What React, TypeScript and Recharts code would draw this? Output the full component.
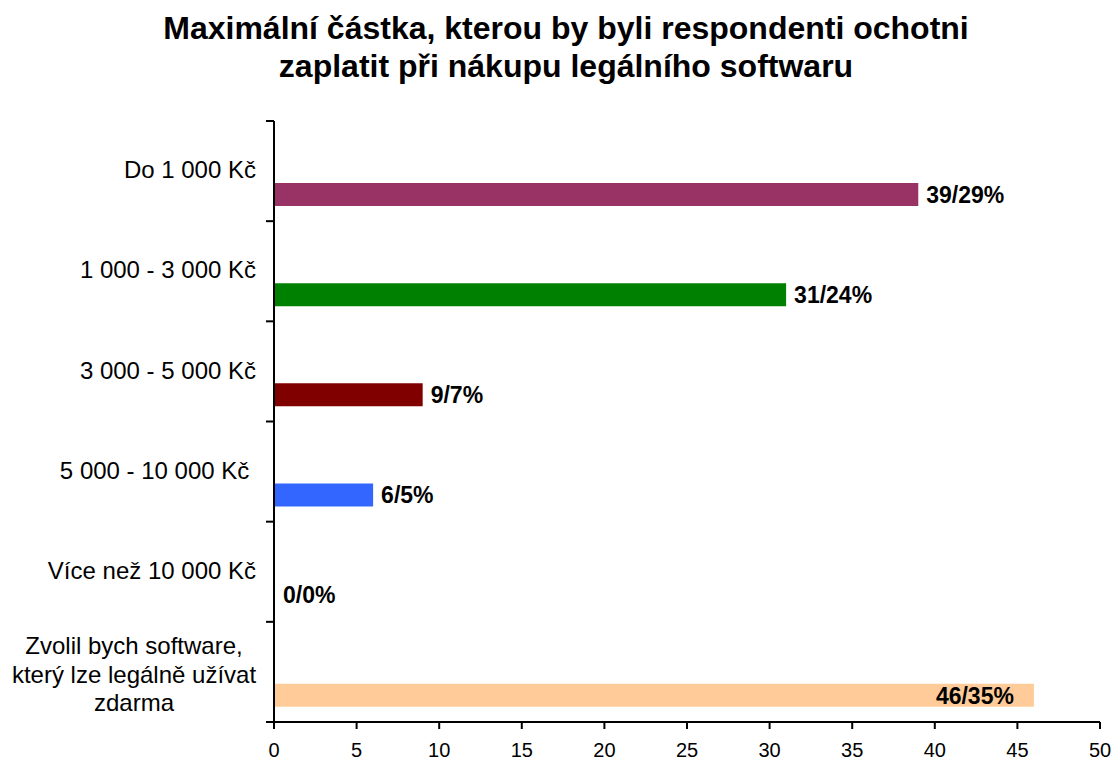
import React from "react"
import { BarChart, Bar, XAxis, YAxis, Cell, LabelList } from "recharts"

const categories = [
  "Do 1 000 Kč",
  "1 000 - 3 000 Kč",
  "3 000 - 5 000 Kč",
  "5 000 - 10 000 Kč ",
  "Více než 10 000 Kč",
  "Zvolil bych software,\nkterý lze legálně užívat\nzdarma",
]
const counts = [39, 31, 9, 6, 0, 46]
const percents = [29, 24, 7, 5, 0, 35]
const barColors = ["#993366", "#008000", "#800000", "#3366FF", "#FFFFFF", "#FFCC99"]
const xTicks = [0, 5, 10, 15, 20, 25, 30, 35, 40, 45, 50]

const titleLines = [
  "Maximální částka, kterou by byli respondenti ochotni",
  "zaplatit při nákupu legálního softwaru",
]

// the two empty series keep the slot layout of the original clustered chart
const data = categories.map((name, i) => ({
  name,
  emptyA: null,
  emptyB: null,
  count: counts[i],
  label: `${counts[i]}/${percents[i]}%`,
}))

const FONT = "Arial, 'Liberation Sans', sans-serif"
const WIDTH = 1114
const HEIGHT = 764
const AXIS_X = 274
const CHART_RIGHT = 1100

function CategoryTick(props: any) {
  const { x, y, payload, index } = props
  const half = payload.offset || 50
  const lines = String(payload.value).split("\n")
  const lineH = 28.5
  return (
    <g>
      <line x1={AXIS_X - 8} x2={AXIS_X} y1={y - half} y2={y - half} stroke="#000" strokeWidth={2} />
      {index === categories.length - 1 && (
        <line x1={AXIS_X - 8} x2={AXIS_X} y1={y + half} y2={y + half} stroke="#000" strokeWidth={2} />
      )}
      {lines.length === 1 ? (
        <text x={x} y={y} dy="0.3em" textAnchor="end" fontSize={24} fontFamily={FONT} fill="#000" style={{ whiteSpace: "pre" }}>
          {lines[0]}
        </text>
      ) : (
        <text x={x - 122} y={y} textAnchor="middle" fontSize={24} fontFamily={FONT} fill="#000">
          {lines.map((l, i) => (
            <tspan key={i} x={x - 122} y={y + (i - (lines.length - 1) / 2) * lineH + 11}>
              {l}
            </tspan>
          ))}
        </text>
      )}
    </g>
  )
}

function ValueLabel(props: any) {
  const { x, y, width, height, value } = props
  const fontSize = 23
  const textW = String(value).length * fontSize * 0.58
  let tx = x + width + 8
  let anchor: "start" | "end" = "start"
  if (tx + textW > CHART_RIGHT) {
    tx = x + width - 20
    anchor = "end"
  }
  return (
    <text
      x={tx}
      y={y + height / 2}
      dy="0.36em"
      textAnchor={anchor}
      fontSize={fontSize}
      fontWeight="bold"
      fontFamily={FONT}
      fill="#000"
    >
      {value}
    </text>
  )
}

export default function App() {
  return (
    <div style={{ position: "absolute", top: 0, left: 0, width: WIDTH, height: HEIGHT, background: "#fff" }}>
      <div
        style={{
          position: "absolute",
          top: 9,
          left: 8,
          width: 1116,
          textAlign: "center",
          fontFamily: FONT,
          fontWeight: "bold",
          fontSize: 32,
          lineHeight: "38px",
          color: "#000",
        }}
      >
        {titleLines.map((t) => (
          <div key={t}>{t}</div>
        ))}
      </div>
      <BarChart
        width={WIDTH}
        height={HEIGHT}
        data={data}
        layout="vertical"
        margin={{ top: 121, right: WIDTH - CHART_RIGHT, bottom: 0, left: 0 }}
        barGap={0}
        barSize={23}
      >
        <XAxis
          type="number"
          domain={[0, 50]}
          ticks={xTicks}
          interval={0}
          height={42}
          tickSize={7}
          tickMargin={14}
          axisLine={{ stroke: "#000", strokeWidth: 2 }}
          tickLine={{ stroke: "#000", strokeWidth: 2 }}
          tick={{ fill: "#000", fontSize: 20, fontFamily: FONT }}
        />
        <YAxis
          type="category"
          dataKey="name"
          width={AXIS_X}
          interval={0}
          tickSize={8}
          tickMargin={10}
          tickLine={false}
          axisLine={{ stroke: "#000", strokeWidth: 2 }}
          tick={<CategoryTick />}
        />
        <Bar dataKey="emptyA" isAnimationActive={false} fill="none" />
        <Bar dataKey="emptyB" isAnimationActive={false} fill="none" />
        <Bar dataKey="count" isAnimationActive={false} minPointSize={1}>
          {data.map((d, i) => (
            <Cell key={d.name} fill={barColors[i]} />
          ))}
          <LabelList dataKey="label" content={<ValueLabel />} />
        </Bar>
      </BarChart>
    </div>
  )
}
